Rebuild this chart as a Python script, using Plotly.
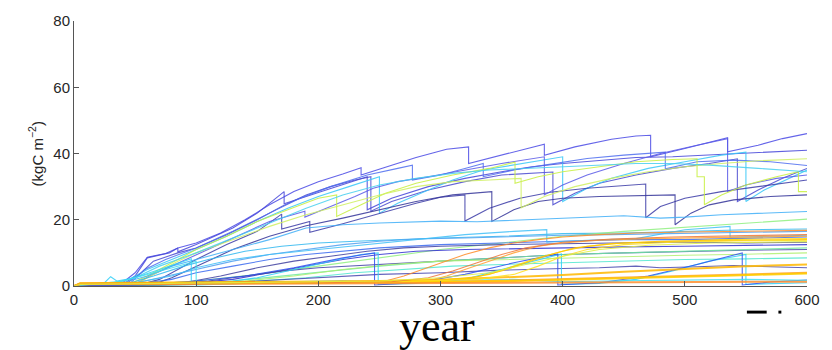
import plotly.graph_objects as go

# ---- carbon trajectories (year, kgC m-2), one pair of lists per patch ----
# upper, disturbance-driven saw-tooth trajectories
s01_yr = [0, 38, 50, 60, 75, 85, 100, 120, 140, 160, 180, 200, 220, 235, 235, 260, 280, 305, 323, 323, 345, 365, 385, 385, 410, 440, 460, 472, 472, 500, 520, 535, 535, 560, 580, 600]
s01_c = [0, 0.5, 4, 8.7, 9.8, 11.5, 13, 16, 20, 24.5, 28.5, 31.5, 33.8, 35.7, 33.5, 36.5, 38.8, 41.3, 42, 37, 39, 41, 42.8, 39.5, 42, 44.3, 45.3, 45.5, 39, 41.5, 43.5, 44.8, 40.5, 42.5, 44.5, 46]

s02_yr = [0, 40, 50, 60, 78, 85, 85, 100, 130, 150, 172, 172, 200, 225, 240, 240, 260, 290, 320, 350, 375, 400, 430, 460, 490, 520, 543, 570, 600]
s02_c = [0, 0.5, 3, 8.5, 10, 11.5, 10.3, 12.5, 17.5, 22, 28.5, 24.8, 28.2, 31.2, 33, 23, 26.5, 30, 32.5, 34.5, 36, 37, 38, 38.8, 39, 39.5, 40, 40.5, 41]

s03_yr = [0, 42, 55, 65, 85, 100, 125, 150, 170, 190, 210, 230, 243, 243, 260, 290, 320, 350, 392, 392, 410, 430, 460, 490, 520, 543, 543, 560, 580, 600]
s03_c = [0, 0.5, 4, 7.5, 10, 11.5, 15.5, 20, 24, 27.5, 30, 32, 33, 22.6, 25.5, 29, 31.5, 33.5, 34.4, 24.5, 28, 31, 33.5, 35.5, 37, 38.4, 25.5, 29, 32.5, 35.5]

s04_yr = [0, 30, 45, 60, 80, 100, 125, 150, 175, 200, 225, 250, 250, 265, 290, 310, 335, 360, 385, 400, 400, 420, 440, 470, 500, 530, 550, 550, 565, 585, 600]
s04_c = [0, 0.8, 2, 5, 8, 11, 15, 19.5, 23.5, 27, 30, 33, 22, 25, 29, 32, 35, 36.5, 38, 39, 25.5, 29.5, 32.5, 35.5, 37.5, 39.5, 40.4, 25.5, 29, 32.5, 35]

s05_yr = [0, 45, 58, 75, 100, 130, 160, 185, 210, 240, 265, 277, 277, 300, 320, 335, 335, 360, 385, 420, 450, 484, 484, 510, 540, 570, 600]
s05_c = [0, 0.5, 5, 8, 11.5, 16.5, 22, 26.5, 30, 33.5, 35.5, 36.5, 32, 33.5, 35.5, 37, 33, 35, 36.5, 38.5, 39.5, 40.4, 35.4, 37.5, 38, 37.5, 36.4]

s06_yr = [0, 55, 70, 85, 100, 125, 150, 170, 170, 193, 193, 220, 250, 280, 300, 320, 320, 340, 365, 390, 420, 450, 468, 468, 480, 500, 530, 560, 600]
s06_c = [0, 0.5, 2, 5, 8, 12.5, 16.5, 21.7, 17.2, 19.5, 16.2, 18.8, 22, 25, 26.8, 27.5, 19.6, 23.5, 26.5, 28.3, 29.5, 30.3, 30.8, 20.6, 24, 26.5, 28.5, 30, 32]

s07_yr = [0, 65, 80, 100, 130, 160, 190, 220, 250, 280, 310, 342, 342, 360, 380, 400, 430, 460, 492, 492, 505, 520, 540, 570, 600]
s07_c = [0, 0.5, 2.5, 6, 11, 15, 18.2, 20.5, 23, 25.5, 27.5, 28.5, 19.5, 23, 25.5, 26.5, 27, 27.3, 27.5, 18.5, 22, 24.5, 26, 27, 27.5]

s08_yr = [0, 50, 62, 80, 100, 130, 160, 189, 189, 210, 230, 245, 265, 290, 320, 350, 385, 385, 400, 420, 450, 480, 510, 535, 535, 550, 575, 600]
s08_c = [0, 0.5, 3, 6, 9.5, 14.5, 19.5, 22.6, 20.8, 24, 27, 29.5, 31.5, 33, 35, 37, 39, 27.5, 30.5, 33.5, 37, 40, 42.5, 44.5, 28.5, 30.5, 32.5, 33.5]

s09_yr = [0, 45, 60, 80, 100, 125, 150, 175, 200, 215, 215, 235, 255, 280, 310, 340, 361, 361, 380, 400, 430, 460, 490, 510, 510, 516, 516, 530, 550, 575, 593, 593, 600]
s09_c = [0, 0.5, 3, 7, 11, 15, 19.5, 23, 26.5, 27.5, 21, 24.5, 28, 31, 33.5, 35.5, 37.4, 31, 33, 34.5, 36, 37.5, 38.2, 38.4, 33, 33, 24.5, 27.5, 30.5, 33, 34.5, 28.5, 28.5]

s10_yr = [0, 50, 65, 85, 100, 130, 160, 190, 220, 250, 280, 310, 340, 366, 366, 385, 410, 440, 470, 500, 530, 560, 600]
s10_c = [0, 0.5, 3.5, 7.5, 10, 14, 18, 21.5, 24.5, 27.5, 30, 31.5, 32, 32.5, 23.6, 27, 30, 32.5, 34.5, 36, 37, 37.8, 38.4]

s11_yr = [0, 35, 50, 70, 100, 130, 160, 190, 220, 250, 280, 310, 340, 370, 400, 430, 460, 490, 520, 560, 600]
s11_c = [0, 1, 2.5, 6, 10, 14.5, 19, 23.5, 27.5, 30.5, 32.5, 34, 35, 35.5, 36, 36.5, 37, 37, 36.5, 35.5, 34.5]

# middle band of slowly accumulating patches
s12_yr = [0, 40, 60, 80, 100, 130, 160, 190, 220, 250, 280, 300, 330, 360, 390, 420, 450, 480, 500, 530, 560, 600]
s12_c = [0, 1, 3, 6, 8, 11, 14, 17.5, 18.5, 19, 19.3, 19.6, 19.4, 19.8, 20.4, 20.8, 21.2, 20.5, 20.8, 21.5, 22, 22.5]

s13_yr = [0, 45, 65, 90, 110, 140, 170, 200, 230, 260, 300, 350, 400, 450, 500, 550, 600]
s13_c = [0, 0.8, 3, 6, 8, 10.5, 12, 13, 13.5, 14, 14.5, 15, 15.8, 16, 16.5, 17, 17.2]

s14_yr = [0, 60, 100, 150, 200, 250, 300, 350, 400, 450, 500, 550, 600]
s14_c = [0, 0.5, 1.5, 3.5, 6, 8.5, 11, 13, 15, 16.5, 17.8, 19, 20.2]

s15_yr = [0, 50, 80, 100, 130, 160, 190, 220, 250, 300, 350, 400, 450, 500, 550, 600]
s15_c = [0, 0.5, 2, 4, 6, 8, 9.5, 10.5, 11.5, 12.5, 13, 13.5, 14, 14, 14.5, 14.8]

s16_yr = [0, 60, 90, 120, 150, 180, 210, 240, 270, 300, 350, 400, 450, 500, 550, 600]
s16_c = [0, 0.3, 1, 3, 5.5, 7.5, 9, 10.5, 11.5, 12, 12.5, 12.8, 13, 13.3, 13, 13.2]

s17_yr = [0, 45, 70, 100, 130, 160, 190, 220, 250, 280, 320, 360, 400, 440, 480, 520, 560, 600]
s17_c = [0, 0.5, 2.5, 5, 7.5, 9.5, 11, 12.5, 13.5, 14.2, 14.5, 15, 15.3, 15.5, 15.8, 16, 16.2, 16.5]

s18_yr = [0, 70, 100, 130, 160, 190, 220, 250, 280, 320, 360, 400, 450, 500, 550, 600]
s18_c = [0, 0.3, 1, 2, 4, 6, 8, 9.5, 10.5, 11, 11.3, 11.5, 11.8, 12, 12.3, 12.5]

s19_yr = [0, 50, 80, 100, 130, 160, 200, 240, 280, 320, 360, 387, 387, 420, 460, 500, 537, 537, 570, 600]
s19_c = [0, 1, 3, 5.5, 8, 9.5, 11, 12.5, 14, 15.5, 16.5, 17, 13.2, 13.8, 14.3, 17, 18, 14.7, 15, 15.3]

s20_yr = [0, 80, 110, 140, 170, 200, 250, 300, 350, 400, 450, 500, 550, 600]
s20_c = [0, 0.5, 1.5, 3, 4.5, 5.5, 6.5, 7.5, 8.5, 9.5, 10, 10.5, 10.8, 11]

s21_yr = [0, 90, 130, 170, 210, 250, 300, 350, 400, 450, 500, 550, 600]
s21_c = [0, 0.5, 1.5, 3, 4.5, 6, 7.5, 8.5, 9.5, 10, 10.5, 11, 11.5]

s22_yr = [0, 100, 140, 180, 220, 260, 300, 350, 400, 450, 500, 550, 600]
s22_c = [0, 0.5, 1.5, 3, 5, 6.5, 7.5, 8, 8.5, 9, 9.3, 9.6, 10]

s23_yr = [0, 110, 150, 190, 230, 270, 310, 350, 400, 450, 500, 550, 600]
s23_c = [0, 0.5, 1.5, 2.5, 4, 5, 6, 6.5, 7, 7.5, 8, 8.2, 8.5]

s24_yr = [0, 100, 150, 200, 250, 300, 350, 400, 430, 460, 480, 510, 540, 570, 600]
s24_c = [0, 0.5, 1.5, 2.5, 3.5, 4, 4.8, 5.3, 5.5, 6, 5.5, 5.8, 6.2, 5.8, 5.5]

# patches cleared back to bare ground
s25_yr = [0, 25, 30, 35, 50, 70, 90, 96, 96, 120, 150, 180, 210, 235, 249, 249, 280, 320, 350, 380, 399, 399, 430, 460, 490, 520, 550, 550, 580, 600]
s25_c = [0, 1, 2.8, 1.5, 2.5, 5, 7.5, 8.2, 0.8, 1, 2.5, 5, 7.5, 9.5, 10, 0.5, 0.8, 2, 5, 8, 9.7, 0.5, 0.8, 2, 4.5, 7.5, 9.5, 0.5, 0.8, 1]

s26_yr = [0, 60, 100, 140, 180, 220, 246, 246, 280, 320, 360, 396, 396, 430, 470, 510, 547, 547, 570, 600]
s26_c = [0, 0.5, 1.5, 3, 5.5, 8.5, 10, 0.3, 1, 3.5, 7, 9.7, 0.3, 1, 3, 6.5, 10, 0.3, 1.2, 1.8]

s27_yr = [0, 40, 60, 80, 100, 100, 130, 160, 190, 220, 250, 280, 320, 360, 400, 450, 500, 550, 600]
s27_c = [0, 1.5, 3.5, 5.5, 7.5, 0.3, 0.6, 1.2, 1.5, 1.6, 1.2, 1.5, 1.8, 2, 1.3, 1.6, 1.8, 2, 1.7]

# near-ground bundle and late-establishing (sigmoid) patches
s28_yr = [0, 5, 50, 100, 150, 200, 250, 300, 350, 400, 450, 500, 550, 600]
s28_c = [0, 0.7, 0.8, 0.9, 1, 1, 1.1, 1.3, 1.6, 2, 2.5, 3, 3.5, 4]

s29_yr = [0, 5, 60, 120, 180, 240, 300, 360, 420, 480, 540, 600]
s29_c = [0, 0.6, 0.7, 0.8, 0.9, 1, 1.2, 1.5, 2, 2.6, 3.2, 3.8]

s30_yr = [0, 5, 50, 100, 150, 200, 250, 300, 350, 400, 450, 500, 550, 600]
s30_c = [0, 0.8, 1, 1.1, 1.2, 1.3, 1.5, 1.9, 2.5, 3.3, 4.3, 5.2, 6, 6.5]

s31_yr = [0, 5, 80, 160, 240, 320, 400, 480, 560, 600]
s31_c = [0, 0.5, 0.6, 0.7, 0.8, 0.9, 1, 1.1, 1.2, 1.3]

s32_yr = [0, 5, 100, 200, 255, 270, 285, 300, 320, 340, 360, 380, 400, 430, 460, 500, 550, 600]
s32_c = [0, 0.8, 1, 1.2, 1.5, 3, 5, 7, 9.5, 11.5, 13, 14, 14.8, 15.5, 16, 16.3, 16.5, 16.8]

s33_yr = [0, 5, 150, 250, 290, 305, 320, 340, 360, 380, 400, 430, 470, 520, 560, 600]
s33_c = [0, 0.7, 1, 1.2, 1.6, 3, 5, 7.5, 10, 12, 13, 13.8, 14.3, 14.6, 14.8, 15]

s34_yr = [0, 5, 200, 300, 320, 340, 360, 380, 400, 420, 450, 490, 530, 570, 600]
s34_c = [0, 0.7, 1, 1.5, 2.2, 3.5, 6, 8.5, 10.5, 12, 13, 13.6, 14, 14.2, 14.3]

s35_yr = [0, 5, 200, 300, 330, 350, 370, 390, 410, 440, 480, 530, 600]
s35_c = [0, 0.8, 1.1, 1.8, 2.8, 4.5, 7, 9.5, 11.5, 12.8, 13.5, 13.8, 14]

s36_yr = [0, 5, 250, 330, 360, 380, 400, 420, 450, 490, 540, 600]
s36_c = [0, 0.6, 1.2, 2, 3.5, 6, 9, 11, 12.5, 13.2, 13.6, 13.8]

s37_yr = [0, 5, 200, 260, 290, 310, 330, 350, 370, 400, 440, 490, 550, 600]
s37_c = [0, 0.6, 1, 1.3, 2.5, 4.5, 7, 9.5, 11.5, 13.2, 14.2, 14.8, 15.2, 15.5]

s38_yr = [0, 5, 250, 300, 340, 370, 400, 430, 470, 520, 600]
s38_c = [0, 0.5, 1.5, 2.5, 4, 6.5, 9, 11, 12.3, 13, 13.4]

# jet-style colours, one per patch
line_colours = [
    "#4b4be6", "#4646da", "#4a4ad0", "#38c8f8", "#4f6ef0", "#3c3ca8", "#35359a",
    "#5a5ae8", "#c8f040", "#d0f060", "#48d0f0",
    "#40b0f8", "#30b8f0", "#90f080", "#3a6af0", "#4040a0", "#50a0f0", "#3030d0",
    "#40c0f8", "#4444a8", "#70e8a0", "#b0f070", "#50e8d0", "#4848b0",
    "#30d0f8", "#3050f0", "#40e0f0",
    "#ffa020", "#ffd000", "#ffb800", "#ff9030",
    "#ff8c28", "#ffa030", "#ffd800", "#ffc400", "#ffe020", "#f07838", "#e0f040",
]
ground_bundle = {"#ffa020", "#ffd000", "#ffb800", "#ff9030"}

series = [
    (s01_yr, s01_c), (s02_yr, s02_c), (s03_yr, s03_c), (s04_yr, s04_c),
    (s05_yr, s05_c), (s06_yr, s06_c), (s07_yr, s07_c), (s08_yr, s08_c),
    (s09_yr, s09_c), (s10_yr, s10_c), (s11_yr, s11_c), (s12_yr, s12_c),
    (s13_yr, s13_c), (s14_yr, s14_c), (s15_yr, s15_c), (s16_yr, s16_c),
    (s17_yr, s17_c), (s18_yr, s18_c), (s19_yr, s19_c), (s20_yr, s20_c),
    (s21_yr, s21_c), (s22_yr, s22_c), (s23_yr, s23_c), (s24_yr, s24_c),
    (s25_yr, s25_c), (s26_yr, s26_c), (s27_yr, s27_c), (s28_yr, s28_c),
    (s29_yr, s29_c), (s30_yr, s30_c), (s31_yr, s31_c), (s32_yr, s32_c),
    (s33_yr, s33_c), (s34_yr, s34_c), (s35_yr, s35_c), (s36_yr, s36_c),
    (s37_yr, s37_c), (s38_yr, s38_c),
]

x_ticks = [0, 100, 200, 300, 400, 500, 600]
y_ticks = [0, 20, 40, 60, 80]

fig = go.Figure()
for (yr, c), col in zip(series, line_colours):
    thick = 2.0 if col in ground_bundle else 1.1
    fig.add_trace(go.Scatter(
        x=yr, y=c, mode="lines",
        line=dict(color=col, width=thick),
        opacity=0.85, showlegend=False, hoverinfo="skip",
    ))

axis_common = dict(
    showgrid=False, zeroline=False, showline=True,
    linecolor="#555555", linewidth=1,
    ticks="inside", ticklen=5, tickcolor="#555555", tickwidth=1,
    tickfont=dict(family="Liberation Sans, Arial, sans-serif", size=15, color="#262626"),
)

fig.update_layout(
    width=832, height=350,
    margin=dict(l=74, r=18, t=17, b=64),
    paper_bgcolor="white", plot_bgcolor="white",
    xaxis=dict(range=[0, 600], tickvals=x_ticks, **axis_common),
    yaxis=dict(range=[0, 80], tickvals=y_ticks, **axis_common),
    annotations=[
        dict(text="(kgC m<sup>−2</sup>)", textangle=-90,
             xref="paper", yref="paper", x=-0.052, y=0.50,
             xanchor="center", yanchor="middle", showarrow=False,
             font=dict(family="Liberation Sans, Arial, sans-serif", size=15, color="#262626")),
        dict(text="year", xref="paper", yref="paper", x=0.495, y=-0.152,
             xanchor="center", yanchor="middle", showarrow=False,
             font=dict(family="Liberation Serif, Times New Roman, serif", size=44, color="black")),
    ],
)

# fragment of a caption line at the lower right edge
fig.add_shape(type="rect", xref="paper", yref="paper",
              x0=0.918, x1=0.945, y0=-0.104, y1=-0.093,
              fillcolor="black", line_width=0)
fig.add_shape(type="rect", xref="paper", yref="paper",
              x0=0.961, x1=0.965, y0=-0.104, y1=-0.093,
              fillcolor="black", line_width=0)

fig.write_html("out.html")
